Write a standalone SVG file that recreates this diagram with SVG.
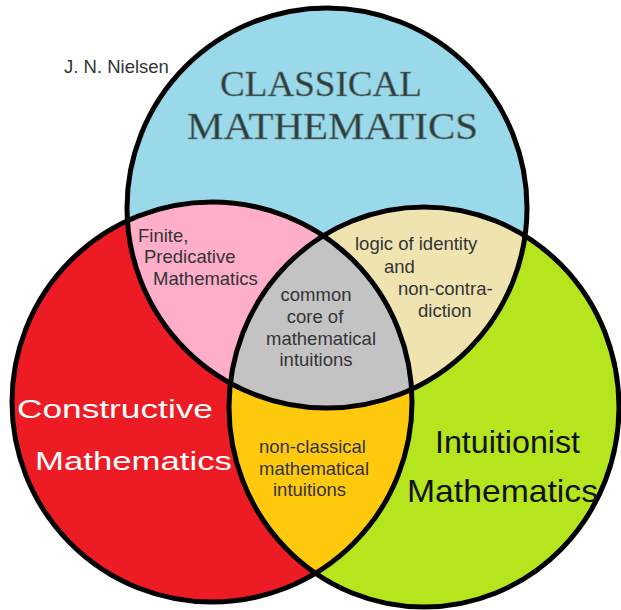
<svg xmlns="http://www.w3.org/2000/svg" width="621" height="610" viewBox="0 0 621 610">
  <style>
    .ring { fill: none; stroke: #000; stroke-width: 5; }
    .lbl { font-family: "Liberation Sans", Arial, sans-serif; font-size: 18.5px; fill: #333338; }
    .title { font-family: "Liberation Serif", "Times New Roman", serif; fill: #2e3c3c; stroke: #6d8d8d; stroke-width: 0.6; }
    .cons { font-family: "Liberation Sans", Arial, sans-serif; fill: #ffffff; }
    .intu { font-family: "Liberation Sans", Arial, sans-serif; fill: #111111; }
  </style>
  <defs>
    <clipPath id="cB"><circle cx="327" cy="208" r="200"/></clipPath>
    <clipPath id="cR"><circle cx="212" cy="402" r="200"/></clipPath>
    <clipPath id="cG"><ellipse cx="424" cy="407" rx="195" ry="200"/></clipPath>
  </defs>
  <rect width="621" height="610" fill="#ffffff"/>

  <g id="fills">
    <circle cx="327" cy="208" r="200" fill="#99d9ea"/>
    <circle cx="212" cy="402" r="200" fill="#ed1c24"/>
    <ellipse cx="424" cy="407" rx="195" ry="200" fill="#b5e61d"/>
    <circle cx="212" cy="402" r="200" fill="#ffaec9" clip-path="url(#cB)"/>
    <ellipse cx="424" cy="407" rx="195" ry="200" fill="#efe4b0" clip-path="url(#cB)"/>
    <ellipse cx="424" cy="407" rx="195" ry="200" fill="#ffc90e" clip-path="url(#cR)"/>
    <g clip-path="url(#cB)">
      <ellipse cx="424" cy="407" rx="195" ry="200" fill="#c3c3c3" clip-path="url(#cR)"/>
    </g>
  </g>

  <g id="classical">
    <circle class="ring" cx="327" cy="208" r="200"/>
    <text class="title" x="220" y="96" font-size="36" textLength="202" lengthAdjust="spacingAndGlyphs">CLASSICAL</text>
    <text class="title" x="187" y="139" font-size="38" textLength="291" lengthAdjust="spacingAndGlyphs">MATHEMATICS</text>
  </g>

  <g id="constructive">
    <circle class="ring" cx="212" cy="402" r="200"/>
    <text class="cons" x="17" y="418" font-size="25" textLength="196" lengthAdjust="spacingAndGlyphs">Constructive</text>
    <text class="cons" x="35" y="470" font-size="25" textLength="197" lengthAdjust="spacingAndGlyphs">Mathematics</text>
  </g>

  <g id="intuitionist">
    <ellipse class="ring" cx="424" cy="407" rx="195" ry="200"/>
    <text class="intu" x="435" y="453" font-size="32" textLength="145" lengthAdjust="spacingAndGlyphs">Intuitionist</text>
    <text class="intu" x="407" y="502" font-size="32" textLength="191" lengthAdjust="spacingAndGlyphs">Mathematics</text>
  </g>

  <g id="finite-predicative">
    <text class="lbl" x="138" y="242">Finite,</text>
    <text class="lbl" x="144" y="263">Predicative</text>
    <text class="lbl" x="153" y="285">Mathematics</text>
  </g>

  <g id="identity-noncontradiction">
    <text class="lbl" x="355" y="250">logic of identity</text>
    <text class="lbl" x="384" y="273">and</text>
    <text class="lbl" x="398" y="295">non-contra-</text>
    <text class="lbl" x="418" y="317">diction</text>
  </g>

  <g id="common-core">
    <text class="lbl" x="316" y="301" text-anchor="middle">common</text>
    <text class="lbl" x="315" y="323" text-anchor="middle">core of</text>
    <text class="lbl" x="321" y="345" text-anchor="middle">mathematical</text>
    <text class="lbl" x="316" y="366" text-anchor="middle">intuitions</text>
  </g>

  <g id="non-classical">
    <text class="lbl" x="259" y="453">non-classical</text>
    <text class="lbl" x="259" y="475">mathematical</text>
    <text class="lbl" x="273" y="496">intuitions</text>
  </g>

  <g id="author">
    <text class="lbl" x="64" y="73" font-size="17">J. N. Nielsen</text>
  </g>
</svg>
